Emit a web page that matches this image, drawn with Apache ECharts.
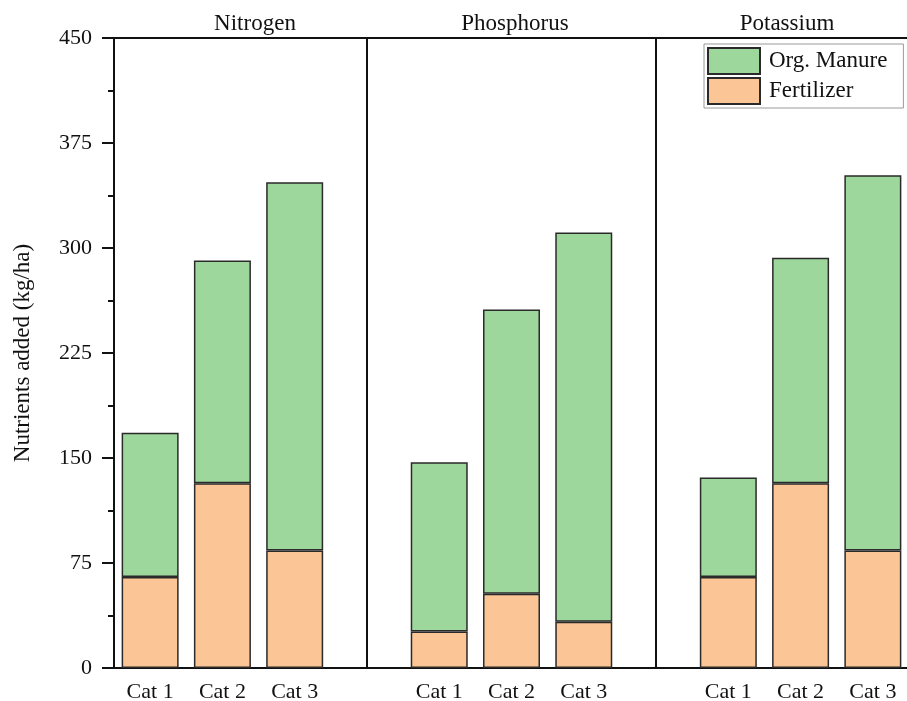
<!DOCTYPE html>
<html>
<head>
<meta charset="utf-8">
<script src="https://cdn.jsdelivr.net/npm/echarts@6/dist/echarts.min.js"></script>
<style>
  html, body { margin: 0; padding: 0; background: #fff; }
  #main { width: 907px; height: 701px; }
</style>
</head>
<body>
<div id="main"></div>
<script>
// panels and categories
const groups = ['Nitrogen', 'Phosphorus', 'Potassium']
const categories = ['Cat 1', 'Cat 2', 'Cat 3']
// values per panel, kg/ha
const fertilizer = [
  [65, 132, 84],   // Nitrogen
  [26, 53, 33],    // Phosphorus
  [65, 132, 84]    // Potassium
]
const manure = [
  [103, 159, 263],
  [121, 203, 278],
  [71, 161, 268]
]
const yTicks = [0, 75, 150, 225, 300, 375, 450]

const FONT = "'Liberation Serif', 'DejaVu Serif', serif"

// one category axis, with an empty slot between panels
const slots = []
const fertData = []
const manureData = []
groups.forEach((g, gi) => {
  if (gi > 0) {
    slots.push('gap' + gi)
    fertData.push('-')
    manureData.push('-')
  }
  categories.forEach((c, ci) => {
    slots.push(g + '|' + c)
    fertData.push(fertilizer[gi][ci])
    manureData.push(manure[gi][ci])
  })
})
const gapSlots = slots.filter(s => s.startsWith('gap'))

const chart = echarts.init(document.getElementById('main'))
chart.setOption({
  backgroundColor: '#fff',
  animation: false,
  textStyle: { fontFamily: FONT },
  title: [
    { text: groups[0], left: 250, top: 7, textAlign: 'center' },
    { text: groups[1], left: 510, top: 7, textAlign: 'center' },
    { text: groups[2], left: 782, top: 7, textAlign: 'center' }
  ].map(t => Object.assign(t, {
    textStyle: { fontFamily: FONT, fontSize: 23, fontWeight: 'normal', color: '#111' }
  })),
  legend: {
    orient: 'vertical',
    left: 704,
    top: 44,
    padding: [3, 16, 3, 3],
    itemGap: 2,
    itemWidth: 52,
    itemHeight: 26,
    borderColor: '#999',
    borderWidth: 1,
    backgroundColor: '#fff',
    icon: 'rect',
    textStyle: { fontFamily: FONT, fontSize: 23, color: '#111', padding: [0, 0, 0, 4] },
    data: ['Org. Manure', 'Fertilizer']
  },
  grid: { left: 114, top: 38, width: 795, bottom: 33, outerBoundsMode: 'none' },
  xAxis: [
    {
      type: 'category',
      data: slots,
      axisLine: { lineStyle: { color: '#111', width: 2 } },
      axisTick: { show: false },
      axisLabel: {
        margin: 13,
        fontFamily: FONT,
        fontSize: 22,
        color: '#111',
        interval: 0,
        formatter: v => v.startsWith('gap') ? '' : v.split('|')[1]
      }
    },
    {
      type: 'category',
      data: slots,
      position: 'top',
      axisLine: { lineStyle: { color: '#111', width: 2 } },
      axisTick: { show: false },
      axisLabel: { show: false }
    }
  ],
  yAxis: {
    type: 'value',
    min: yTicks[0],
    max: yTicks[yTicks.length - 1],
    interval: 75,
    name: 'Nutrients added (kg/ha)',
    nameLocation: 'middle',
    nameGap: 80,
    nameTextStyle: { fontFamily: FONT, fontSize: 23, color: '#111' },
    axisLine: { show: true, lineStyle: { color: '#111', width: 2 } },
    axisTick: { show: true, inside: false, length: 12, lineStyle: { color: '#111', width: 2 } },
    minorTick: { show: true, splitNumber: 2, length: 6, lineStyle: { color: '#111', width: 2 } },
    splitLine: { show: false },
    axisLabel: { margin: 22, fontFamily: FONT, fontSize: 22, color: '#111' }
  },
  series: [
    {
      name: 'Fertilizer',
      type: 'bar',
      stack: 'total',
      barWidth: 57,
      data: fertData,
      itemStyle: { color: '#FBC595', borderColor: '#2a2a2a', borderWidth: 1.5 },
      markLine: {
        silent: true,
        symbol: 'none',
        label: { show: false },
        lineStyle: { color: '#111', width: 2, type: 'solid' },
        data: gapSlots.map(s => ({ xAxis: s }))
      }
    },
    {
      name: 'Org. Manure',
      type: 'bar',
      stack: 'total',
      barWidth: 57,
      data: manureData,
      itemStyle: { color: '#9ED79C', borderColor: '#2a2a2a', borderWidth: 1.5 }
    }
  ]
})
</script>
</body>
</html>
